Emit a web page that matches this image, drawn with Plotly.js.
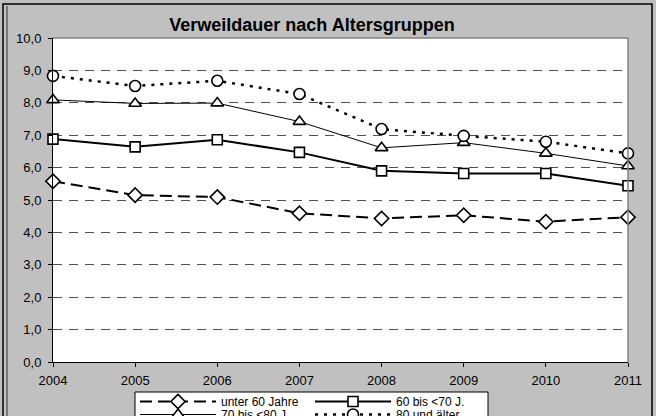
<!DOCTYPE html>
<html><head><meta charset="utf-8">
<script src="https://cdn.plot.ly/plotly-3.0.1.min.js"></script>
<style>html,body{margin:0;padding:0;background:#c0c0c0;}#chart{width:656px;height:416px;}</style>
</head><body><div id="chart"></div>
<script>
const years = [2004, 2005, 2006, 2007, 2008, 2009, 2010, 2011];
const unter60 = [5.58, 5.15, 5.09, 4.59, 4.43, 4.53, 4.33, 4.47];
const bis70 = [6.88, 6.64, 6.86, 6.47, 5.90, 5.82, 5.82, 5.44];
const bis80 = [8.09, 7.98, 7.99, 7.42, 6.61, 6.77, 6.44, 6.05];
const ab80 = [8.83, 8.52, 8.68, 8.27, 7.19, 6.98, 6.80, 6.44];
const names = ['unter 60 Jahre', '60 bis <70 J.', '70 bis <80 J.', '80 und älter'];
const yTicks = [0,1,2,3,4,5,6,7,8,9,10];

const mk = (sym, size) => ({symbol: sym, size: size, color: '#ffffff', line: {color: '#000000', width: 1.6}});
const traces = [
  {x: years, y: unter60, name: names[0], mode: 'lines+markers', cliponaxis: false, legend: 'legend',
   line: {color: '#000', width: 2, dash: '12px,6px'}, marker: mk('diamond', 11)},
  {x: years, y: bis70, name: names[1], mode: 'lines+markers', cliponaxis: false, legend: 'legend',
   line: {color: '#000', width: 2}, marker: mk('square', 10)},
  {x: years, y: bis80, name: names[2], mode: 'lines+markers', cliponaxis: false, legend: 'legend2',
   line: {color: '#000', width: 1}, marker: mk('triangle-up', 11)},
  {x: years, y: ab80, name: names[3], mode: 'lines+markers', cliponaxis: false, legend: 'legend2',
   line: {color: '#000', width: 2.5, dash: '3px,6px'}, marker: mk('circle', 11)}
];

const L = 53, R = 628, T = 38, B = 362, W = 656, H = 416;
const px = v => (v - L) / (R - L);
const py = v => (B - v) / (B - T);

const legendBase = {orientation: 'h', x: px(135), xanchor: 'left', yanchor: 'top',
  bgcolor: 'rgba(0,0,0,0)', borderwidth: 0, font: {size: 12},
  itemwidth: 76, entrywidth: 84, entrywidthmode: 'pixels'};

const layout = {
  width: W, height: H,
  margin: {l: L, r: W - R, t: T, b: H - B, autoexpand: false},
  paper_bgcolor: '#c0c0c0', plot_bgcolor: '#ffffff',
  separators: ',.',
  font: {family: 'Liberation Sans, Arial, sans-serif', size: 13, color: '#000'},
  title: {text: '<b>Verweildauer nach Altersgruppen</b>', font: {size: 18, color: '#000'},
          x: px(312), xref: 'paper', xanchor: 'center', y: 1 - 25 / H, yanchor: 'middle'},
  showlegend: true,
  legend: Object.assign({}, legendBase, {y: py(387)}),
  legend2: Object.assign({}, legendBase, {y: py(400)}),
  xaxis: {range: [2004, 2011], tickvals: years, ticktext: years.map(String), showgrid: false,
          zeroline: false, showline: true, linecolor: '#000', linewidth: 1, tickfont: {size: 13},
          ticks: 'outside', ticklen: 4, tickcolor: '#000', ticklabelstandoff: 2},
  yaxis: {range: [0, 10], tickvals: yTicks, tickformat: '.1f', showgrid: true,
          gridcolor: '#505050', gridwidth: 1, griddash: '9px,7px', zeroline: false,
          showline: true, linecolor: '#000', linewidth: 1, tickfont: {size: 13},
          ticks: 'outside', ticklen: 4, tickcolor: '#000', ticklabelstandoff: 4},
  shapes: [
    {type: 'line', xref: 'paper', yref: 'paper', x0: 0, x1: 1, y0: 1, y1: 1, line: {color: '#808080', width: 1.5}},
    {type: 'line', xref: 'paper', yref: 'paper', x0: 1, x1: 1, y0: 0, y1: 1, line: {color: '#808080', width: 1.5}},
    {type: 'rect', xref: 'paper', yref: 'paper', x0: px(3), x1: px(652), y0: py(4), y1: py(430), line: {color: '#000', width: 1.5}},
    {type: 'line', xref: 'paper', yref: 'paper', x0: px(7), x1: px(7), y0: py(6), y1: py(430), line: {color: '#333', width: 1}},
    {type: 'rect', xref: 'paper', yref: 'paper', x0: px(135), x1: px(488), y0: py(392), y1: py(430),
     fillcolor: '#ffffff', line: {color: '#000', width: 1}, layer: 'above'}
  ]
};

Plotly.newPlot('chart', traces, layout, {displayModeBar: false, staticPlot: true});
</script></body></html>
